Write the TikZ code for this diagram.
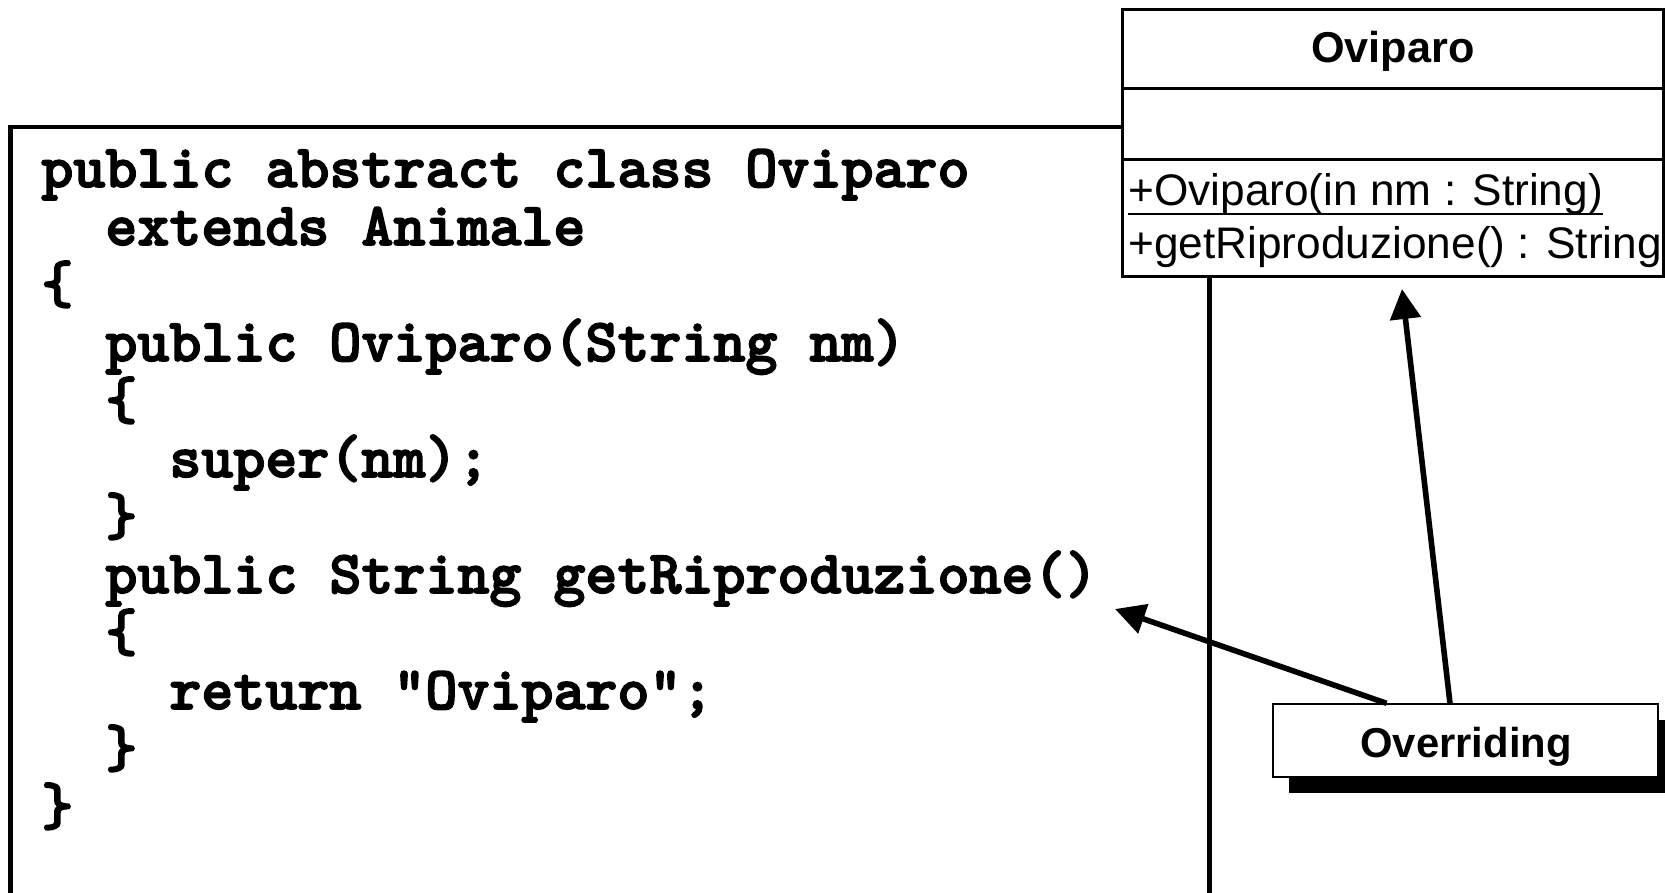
\documentclass[tikz,border=0pt]{standalone}
\usepackage{fontspec}
\setmainfont{Liberation Sans}
\newfontfamily\codefont{lmmonolt10-bold.otf}[FakeBold=2.5]
\usetikzlibrary{arrows.meta,shadows,calc}

\tikzset{
  codeline/.style={anchor=base west, inner sep=0pt,
    font=\codefont\fontsize{30.48pt}{36pt}\selectfont},
  codeframe/.style={draw=black, line width=2.2pt},
  umlframe/.style={draw=black, line width=1.5pt, fill=white},
  umltitle/.style={anchor=base, inner sep=0pt,
    font=\bfseries\fontsize{21.6pt}{26pt}\selectfont},
  umlop/.style={anchor=base west, inner sep=0pt,
    font=\fontsize{22.1pt}{26pt}\selectfont},
  notebox/.style={draw=black, line width=0.7pt, fill=white,
    minimum width=192.5pt, minimum height=36.5pt, inner sep=0pt,
    drop shadow={shadow xshift=8pt, shadow yshift=-8pt, fill=black, opacity=1}},
  notetext/.style={anchor=base, inner sep=0pt,
    font=\bfseries\fontsize{20.9pt}{25pt}\selectfont},
  pointer/.style={draw=black, line width=2.8pt,
    -{Triangle[length=15pt, width=15pt]}}
}

\begin{document}
\begin{tikzpicture}[x=0.5pt, y=-0.5pt]
\useasboundingbox (0,0) rectangle (1665,893);
\clip (0,0) rectangle (1665,893);

% source listing frame (runs past the lower edge)
\draw[codeframe] (10.6,127.3) rectangle (1209.3,980);

% source listing
\node[codeline] (l1)  at (41,187)  {public abstract class Oviparo};
\node[codeline] (l2)  at (105,245) {extends Animale};
\node[codeline] (l3)  at (41,303)  {\{};
\node[codeline] (l4)  at (105,361) {public Oviparo(String nm)};
\node[codeline] (l5)  at (105,419) {\{};
\node[codeline] (l6)  at (169,477) {super(nm);};
\node[codeline] (l7)  at (105,535) {\}};
\node[codeline] (l8)  at (105,593) {public String getRiproduzione()};
\node[codeline] (l9)  at (105,651) {\{};
\node[codeline] (l10) at (169,709) {return "Oviparo";};
\node[codeline] (l11) at (105,767) {\}};
\node[codeline] (l12) at (41,825)  {\}};

% UML class box
\node[umlframe, minimum width=270.15pt, minimum height=133.7pt, inner sep=0pt]
  (cls) at (1392.85,143) {};
\draw[line width=1.5pt] (cls.west |- 0,89) -- (cls.east |- 0,89);
\draw[line width=1.5pt] (cls.west |- 0,160) -- (cls.east |- 0,160);
\node[umltitle] (clsname) at (1392.85,62.5) {Oviparo};
\node[umlop] (op1) at (1128,206) {+Oviparo(in nm : String)};
\draw[line width=1pt] ([yshift=-4pt]op1.base west) -- ([yshift=-4pt]op1.base east);
\node[umlop] (op2) at (1128,258.5) {+getRiproduzione() : String};

% note box with shadow
\node[notebox] (ovr) at (1465.5,740.5) {};
\node[notetext] (ovrtxt) at (1466,757) {Overriding};

% arrow targets
\coordinate (tipcode) at (1115,609);
\coordinate (tipcls) at (1402,289);

\draw[pointer] ($(ovr.north)+(-79,0)$) -- (tipcode);
\draw[pointer] ($(ovr.north)+(-15.5,0)$) -- (tipcls);
\end{tikzpicture}
\end{document}
